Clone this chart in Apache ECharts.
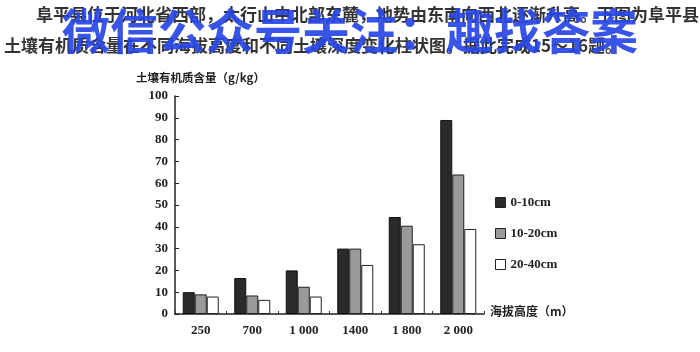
<!DOCTYPE html>
<html><head><meta charset="utf-8">
<script src="https://cdn.jsdelivr.net/npm/echarts@6/dist/echarts.min.js"></script>
<style>html,body{margin:0;padding:0;background:#fff}#c{width:700px;height:352px}</style>
</head><body><div id="c"></div>
<script>
const categories = ['250','700','1 000','1400','1 800','2 000'];
const seriesNames = ['0-10cm','10-20cm','20-40cm'];
const depth0_10 = [10, 16.5, 20, 30, 44.5, 89];
const depth10_20 = [9, 8.5, 12.5, 30, 40.5, 64];
const depth20_40 = [8, 6.5, 8, 22.5, 32, 39];
const yTicks = [0,10,20,30,40,50,60,70,80,90,100];

const serif = '"Liberation Serif", "Noto Sans CJK SC", serif';
const cjk = '"Noto Sans CJK SC", sans-serif';
const chart = echarts.init(document.getElementById('c'), null, {renderer:'canvas'});
const barStyles = [
  {color:'#2a2a2a', borderColor:'#111', borderWidth:1},
  {color:'#9a9a9a', borderColor:'#222', borderWidth:1},
  {color:'#ffffff', borderColor:'#222', borderWidth:1}
];
const data = [depth0_10, depth10_20, depth20_40];
chart.setOption({
  animation:false,
  backgroundColor:'#fff',
  grid:{left:175, right:216, top:96, bottom:38, containLabel:false},
  legend:{
    orient:'vertical', left:490, top:191, itemWidth:10, itemHeight:10, itemGap:18, icon:'rect',
    data:seriesNames, textStyle:{fontFamily:serif, fontSize:13, fontWeight:'bold', color:'#222'},
    itemStyle:{borderColor:'#222', borderWidth:1}
  },
  xAxis:{
    type:'category', data:categories,
    axisLine:{lineStyle:{color:'#222', width:1.5}},
    axisTick:{show:true, inside:true, length:3, lineStyle:{color:'#333'}},
    axisLabel:{fontFamily:serif, fontSize:13, fontWeight:'bold', color:'#222', margin:10},
  },
  yAxis:{
    type:'value', min:0, max:100, interval:10,
    axisLine:{show:true, lineStyle:{color:'#222', width:1.5}},
    axisTick:{show:true, inside:true, length:4, lineStyle:{color:'#222'}},
    splitLine:{show:false},
    axisLabel:{fontFamily:serif, fontSize:13, fontWeight:'bold', color:'#222', margin:7,
      formatter:v=>yTicks.includes(v)?String(v):''}
  },
  series: seriesNames.map((n,i)=>({
    name:n, type:'bar', data:data[i], barWidth:12, barGap:'0%',
    itemStyle:barStyles[i]
  })),
  graphic:[
    {type:'text', left:36, top:6, style:{text:'阜平县位于河北省西部，太行山中北部东麓，地势由东南向西北逐渐升高。下图为阜平县', font:'bold 17px '+cjk, fill:'#333'}},
    {type:'text', left:4, top:37, style:{text:'土壤有机质含量在不同海拔高度和不同土壤深度变化柱状图。据此完成15～16题。', font:'bold 17px '+cjk, fill:'#333'}},
    {type:'text', left:62, top:7, style:{text:'微信公众号关注：趣找答案', font:'bold 48px '+cjk, fill:'rgba(40,70,230,0.92)'}},
    {type:'text', left:136, top:72, style:{text:'土壤有机质含量（g/kg）', font:'bold 11.5px '+cjk, fill:'#222'}},
    {type:'text', left:490, top:305, style:{text:'海拔高度（m）', font:'bold 12px '+cjk, fill:'#222'}}
  ]
});
</script></body></html>
